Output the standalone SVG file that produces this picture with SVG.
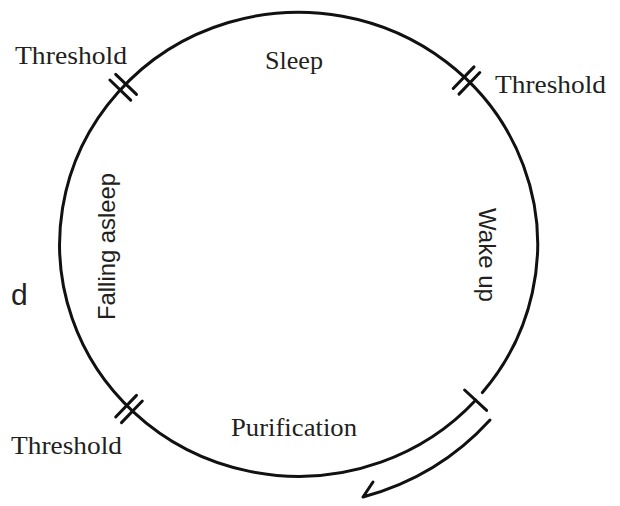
<svg xmlns="http://www.w3.org/2000/svg" width="620" height="506" viewBox="0 0 620 506">
<style>
.ln{fill:none;stroke:#111;stroke-width:3;stroke-linecap:round;stroke-linejoin:round}
.lbl{font-family:"Liberation Serif",serif;font-size:26px;fill:#231f20}
.vl{font-family:"Liberation Sans",sans-serif;font-size:24px;fill:#231f20}
</style>
<rect width="620" height="506" fill="#fff"/>
<g id="connectors">
<path class="ln" d="M475.6,400.2 A239,232 0 1 1 482.4,392.6"/>
<path class="ln" d="M490,420 A263,256 0 0 1 363,497 M363,497 L373,482"/>
</g>
<g id="tick-top-left">
<path class="ln" d="M115.7,74.3 L136.5,94.4 M109.9,80.0 L130.7,100.1"/>
</g>
<g id="tick-top-right">
<path class="ln" d="M459.0,94.1 L479.8,72.5 M453.2,88.5 L474.0,66.9"/>
</g>
<g id="tick-bottom-left">
<path class="ln" d="M115.7,417.0 L136.5,395.4 M121.5,422.6 L142.3,401.0"/>
</g>
<g id="tick-bottom-right">
<path class="ln" d="M464.6,390.0 L486.6,410.4"/>
</g>
<g id="label-threshold-tl"><text class="lbl" x="15" y="64" textLength="112" lengthAdjust="spacingAndGlyphs">Threshold</text></g>
<g id="label-sleep"><text class="lbl" x="265" y="69" textLength="58" lengthAdjust="spacingAndGlyphs">Sleep</text></g>
<g id="label-threshold-tr"><text class="lbl" x="495" y="93" textLength="111" lengthAdjust="spacingAndGlyphs">Threshold</text></g>
<g id="label-threshold-bl"><text class="lbl" x="11" y="454" textLength="111" lengthAdjust="spacingAndGlyphs">Threshold</text></g>
<g id="label-purification"><text class="lbl" x="231" y="436" textLength="126" lengthAdjust="spacingAndGlyphs">Purification</text></g>
<g id="label-falling-asleep"><text class="vl" transform="translate(115,320) rotate(-90)" x="0" y="0" textLength="147" lengthAdjust="spacingAndGlyphs">Falling asleep</text></g>
<g id="label-wake-up"><text class="vl" transform="translate(479,208) rotate(90)" x="0" y="0" textLength="94" lengthAdjust="spacingAndGlyphs">Wake up</text></g>
<g id="label-d"><text x="11" y="305" font-family="Liberation Sans, sans-serif" font-size="30" fill="#231f20">d</text></g>
</svg>
